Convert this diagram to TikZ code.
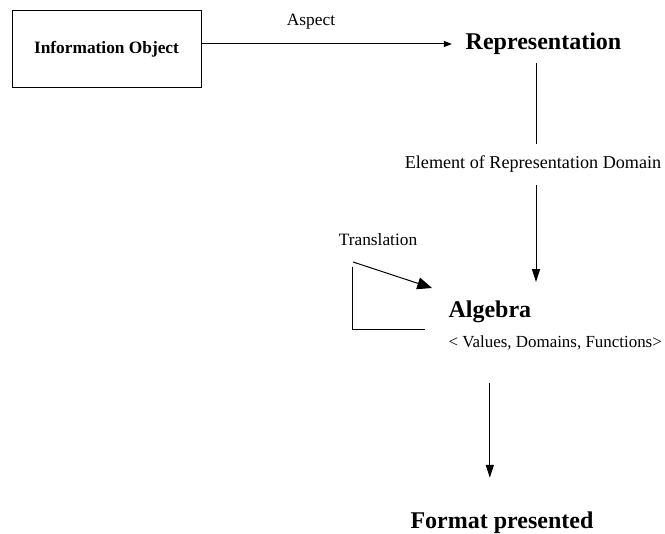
\documentclass[tikz,border=0pt]{standalone}
\usepackage{fontspec}
\setmainfont{Liberation Serif}
\usetikzlibrary{arrows.meta,positioning}
\tikzset{
  every path/.style={line width=0.75pt},
  objbox/.style={draw, minimum width=141.75pt, minimum height=57.75pt, inner sep=0pt, font=\fontsize{13}{15}\selectfont\bfseries},
  bigtext/.style={inner sep=0pt, font=\fontsize{18}{20}\selectfont\bfseries},
  smalltext/.style={inner sep=0pt, font=\fontsize{13}{15}\selectfont},
  flow/.style={-{Triangle[length=6pt,width=4.5pt]}},
  down/.style={-{Triangle[length=9.5pt,width=6pt]}},
  turn/.style={-{Triangle[length=11pt,width=9pt]}}
}
\begin{document}
\begin{tikzpicture}[x=0.75pt,y=-0.75pt]
\useasboundingbox (0,0) rectangle (665,534);

%Information object
\node[objbox] (info) at (106.5,49.5) {Information Object};

%Representation
\node[bigtext] (rep) at (543.5,44) {Representation};
\node[smalltext] (aspect) at (311,22) {Aspect};
\draw[flow, shorten >=10pt] (info.east |- rep.west) -- (rep.west);

%Element of representation domain
\node[smalltext, font=\fontsize{13.6}{15}\selectfont] (elem) at (533,164) {Element of Representation Domain};
\coordinate (spine) at (536,0);
\draw[shorten <=6pt, shorten >=8.5pt] (rep.south -| spine) -- (elem.north -| spine);

%Algebra
\node[bigtext, anchor=west] (alg) at (448,312) {Algebra};
\node[smalltext, anchor=west, font=\fontsize{12.7}{14}\selectfont] (vals) at (448,343) {< Values, Domains, Functions>};
\draw[down, shorten <=9pt, shorten >=14pt] (elem.south -| spine) -- (alg.north -| spine);

%Translation
\node[smalltext] (trl) at (378,240) {Translation};
\coordinate (tfrom) at (353,262);
\coordinate (tto) at (432,288);
\coordinate (ltop) at (352,267);
\coordinate (lbot) at (352,330);
\coordinate (lend) at (425,330);
\draw[turn] (tfrom) -- (tto);
\draw (ltop) -- (lbot) -- (lend);

%Format presented
\node[bigtext, anchor=west] (fmt) at (410,523) {Format presented};
\draw[down, shorten <=24pt, shorten >=25.5pt] (alg |- vals.south) -- (alg |- fmt.north);
\end{tikzpicture}
\end{document}
